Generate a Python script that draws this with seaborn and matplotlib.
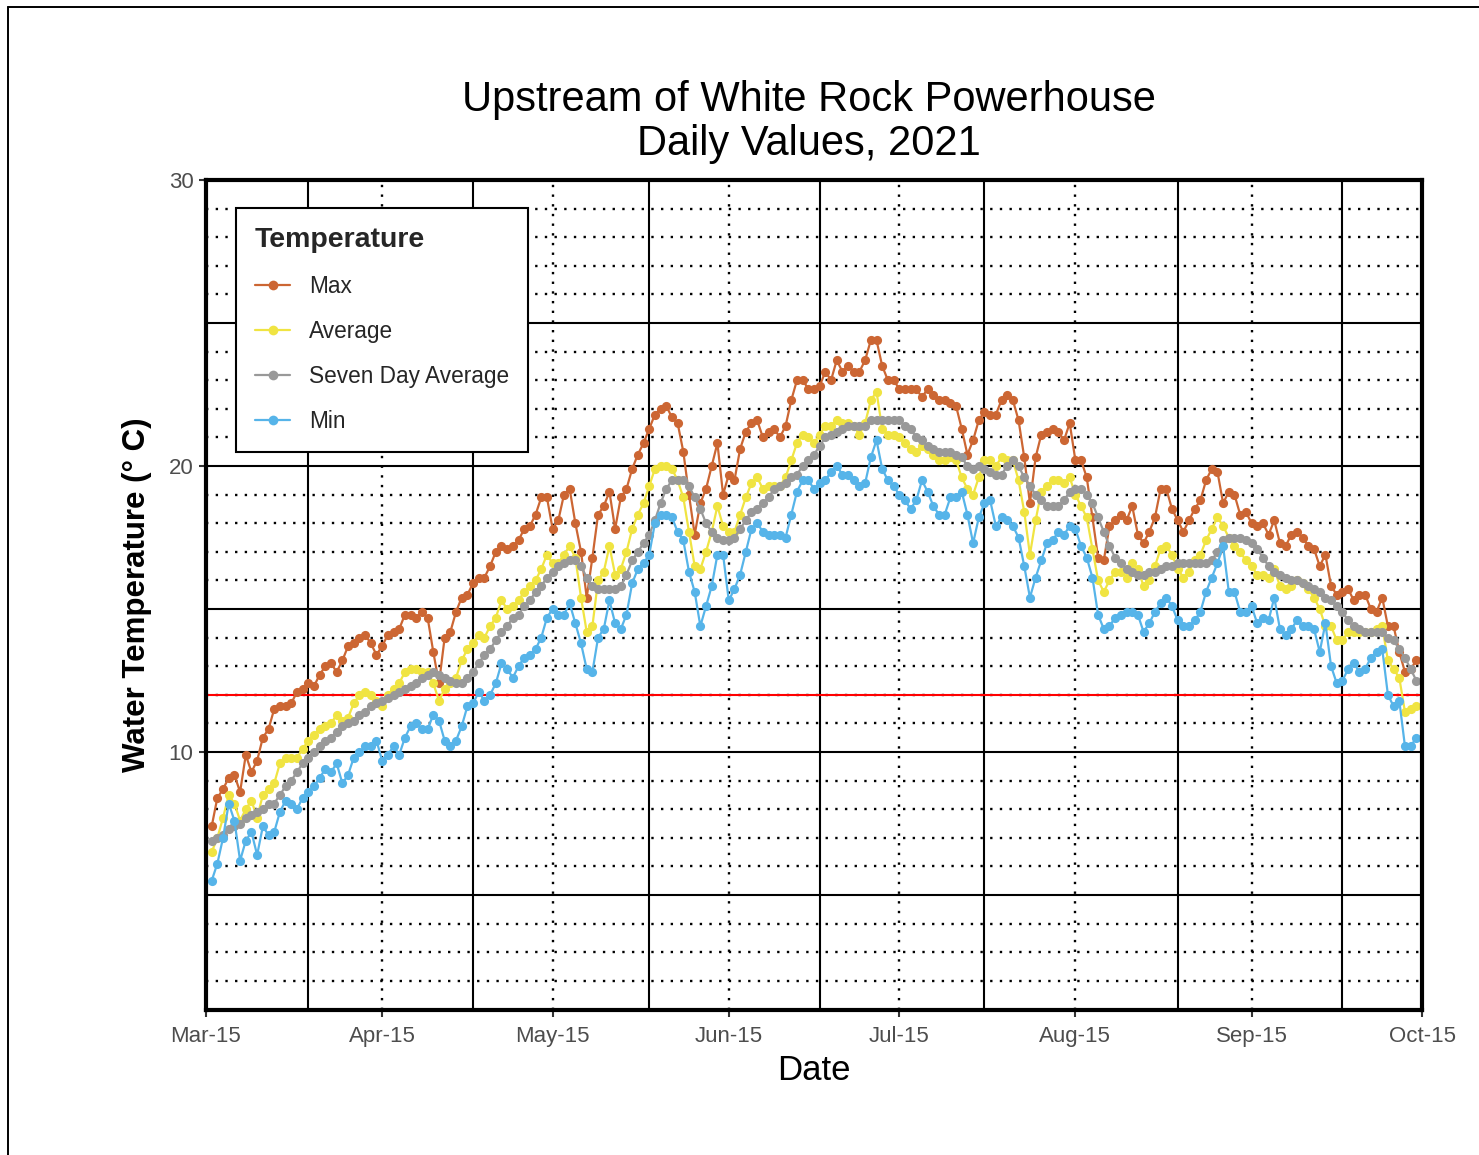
import numpy as np
import pandas as pd
import matplotlib
matplotlib.use("Agg")
import matplotlib.pyplot as plt
from matplotlib.lines import Line2D
import seaborn as sns

# ---------------- data ----------------
start_date = "2021-03-16"

max_temp = [
    7.4, 8.4, 8.7, 9.1, 9.2, 8.6, 9.9, 9.3, 9.7, 10.5,
    10.8, 11.5, 11.6, 11.6, 11.7, 12.1, 12.2, 12.4, 12.3, 12.7,
    13.0, 13.1, 12.8, 13.2, 13.7, 13.8, 14.0, 14.1, 13.8, 13.4,
    13.7, 14.1, 14.2, 14.3, 14.8, 14.8, 14.7, 14.9, 14.7, 13.5,
    12.4, 14.0, 14.2, 14.9, 15.4, 15.5, 15.9, 16.1, 16.1, 16.5,
    17.0, 17.2, 17.1, 17.2, 17.4, 17.8, 17.9, 18.3, 18.9, 18.9,
    17.8, 18.1, 19.0, 19.2, 18.0, 17.0, 15.4, 16.8, 18.3, 18.6,
    19.1, 17.8, 18.9, 19.2, 19.9, 20.4, 20.8, 21.3, 21.8, 22.0,
    22.1, 21.7, 21.5, 20.5, 19.0, 17.6, 18.7, 19.2, 20.0, 20.8,
    19.0, 19.7, 19.5, 20.6, 21.2, 21.5, 21.6, 21.0, 21.2, 21.3,
    21.0, 21.4, 22.3, 23.0, 23.0, 22.7, 22.7, 22.8, 23.3, 23.0,
    23.7, 23.3, 23.5, 23.3, 23.3, 23.7, 24.4, 24.4, 23.5, 23.0,
    23.0, 22.7, 22.7, 22.7, 22.7, 22.4, 22.7, 22.5, 22.3, 22.3,
    22.2, 22.1, 21.3, 20.4, 20.9, 21.6, 21.9, 21.8, 21.8, 22.3,
    22.5, 22.3, 21.6, 20.3, 18.7, 20.3, 21.1, 21.2, 21.3, 21.2,
    20.9, 21.5, 20.2, 20.2, 19.6, 18.2, 16.8, 16.7, 17.9, 18.1,
    18.3, 18.1, 18.6, 17.6, 17.3, 17.7, 18.2, 19.2, 19.2, 18.5,
    18.1, 17.7, 18.1, 18.5, 18.8, 19.5, 19.9, 19.8, 18.7, 19.1,
    19.0, 18.3, 18.4, 18.0, 17.9, 18.0, 17.6, 18.1, 17.3, 17.2,
    17.6, 17.7, 17.5, 17.2, 17.1, 16.5, 16.9, 15.8, 15.5, 15.6,
    15.7, 15.3, 15.5, 15.5, 15.0, 14.9, 15.4, 14.4, 14.4, 13.5,
    12.8, 12.9, 13.2,
]

avg_temp = [
    6.5, 7.0, 7.7, 8.5, 8.2, 7.6, 8.0, 8.3, 7.7, 8.5,
    8.7, 8.9, 9.6, 9.8, 9.8, 9.8, 10.1, 10.4, 10.6, 10.8,
    10.9, 11.0, 11.3, 11.1, 11.2, 11.7, 12.0, 12.1, 12.0, 11.8,
    11.6, 12.0, 12.2, 12.4, 12.8, 12.9, 12.9, 12.8, 12.8, 12.4,
    11.8, 12.2, 12.4, 12.6, 13.2, 13.6, 13.8, 14.1, 14.0, 14.4,
    14.7, 15.3, 15.0, 15.1, 15.3, 15.6, 15.8, 16.0, 16.4, 16.9,
    16.6, 16.6, 16.9, 17.2, 16.8, 15.4, 14.2, 14.4, 16.0, 16.3,
    17.2, 16.2, 16.4, 17.0, 17.8, 18.3, 18.7, 19.3, 19.9, 20.0,
    20.0, 19.9, 19.5, 18.9, 17.7, 16.5, 16.4, 17.0, 17.7, 18.6,
    17.9, 17.7, 17.7, 18.3, 18.9, 19.4, 19.6, 19.2, 19.3, 19.3,
    19.3, 19.6, 20.2, 20.8, 21.1, 21.0, 20.8, 21.1, 21.4, 21.4,
    21.6, 21.5, 21.5, 21.4, 21.1, 21.5, 22.3, 22.6, 21.3, 21.1,
    21.1, 21.0, 20.8, 20.6, 20.5, 20.7, 20.6, 20.4, 20.2, 20.2,
    20.3, 20.2, 19.6, 19.2, 19.0, 19.6, 20.2, 20.2, 20.0, 20.3,
    20.2, 20.2, 19.5, 18.4, 16.9, 18.1, 19.1, 19.3, 19.5, 19.5,
    19.4, 19.6, 19.0, 18.6, 18.2, 17.1, 16.0, 15.6, 16.0, 16.3,
    16.3, 16.1, 16.6, 16.4, 15.8, 16.0, 16.5, 17.1, 17.2, 16.9,
    16.4, 16.1, 16.3, 16.7, 16.9, 17.4, 17.8, 18.2, 17.9, 17.5,
    17.2, 17.0, 16.7, 16.5, 16.2, 16.2, 16.1, 16.4, 15.8, 15.7,
    15.8, 16.0, 15.9, 15.7, 15.4, 15.0, 14.4, 14.4, 13.9, 13.9,
    14.2, 14.2, 14.2, 14.2, 14.2, 14.3, 14.4, 13.2, 12.9, 12.6,
    11.4, 11.5, 11.6,
]

seven_day_avg = [
    6.9, 7.0, 7.1, 7.3, 7.4, 7.5, 7.7, 7.8, 7.9, 8.0,
    8.2, 8.2, 8.5, 8.8, 9.0, 9.3, 9.6, 9.8, 10.0, 10.2,
    10.4, 10.5, 10.7, 10.9, 11.0, 11.1, 11.3, 11.4, 11.6, 11.7,
    11.8, 11.9, 12.0, 12.1, 12.2, 12.3, 12.4, 12.6, 12.7, 12.8,
    12.7, 12.6, 12.5, 12.4, 12.4, 12.6, 12.8, 13.1, 13.4, 13.6,
    13.9, 14.2, 14.4, 14.7, 14.8, 15.1, 15.3, 15.6, 15.8, 16.1,
    16.3, 16.5, 16.6, 16.7, 16.7, 16.5, 16.1, 15.8, 15.7, 15.7,
    15.7, 15.7, 15.8, 16.2, 16.7, 17.0, 17.3, 17.6, 18.1, 18.7,
    19.2, 19.5, 19.5, 19.5, 19.3, 18.9, 18.5, 18.0, 17.7, 17.5,
    17.4, 17.4, 17.5, 17.8, 18.1, 18.4, 18.5, 18.7, 18.9, 19.2,
    19.3, 19.4, 19.6, 19.7, 20.0, 20.2, 20.4, 20.7, 21.0, 21.1,
    21.2, 21.3, 21.4, 21.4, 21.4, 21.4, 21.6, 21.6, 21.6, 21.6,
    21.6, 21.6, 21.4, 21.3, 21.0, 20.9, 20.7, 20.6, 20.5, 20.5,
    20.5, 20.4, 20.3, 20.0, 19.9, 20.0, 19.9, 19.8, 19.7, 19.7,
    20.0, 20.2, 20.0, 19.6, 19.3, 19.0, 18.8, 18.6, 18.6, 18.6,
    18.8, 19.1, 19.2, 19.2, 19.0, 18.7, 18.2, 17.7, 17.2, 16.8,
    16.6, 16.4, 16.3, 16.2, 16.2, 16.3, 16.3, 16.4, 16.5, 16.5,
    16.6, 16.6, 16.6, 16.6, 16.6, 16.6, 16.7, 17.0, 17.4, 17.5,
    17.5, 17.5, 17.4, 17.3, 17.1, 16.8, 16.5, 16.3, 16.2, 16.1,
    16.0, 16.0, 15.9, 15.8, 15.7, 15.6, 15.4, 15.3, 15.1, 14.9,
    14.6, 14.4, 14.3, 14.2, 14.2, 14.2, 14.2, 14.0, 13.9, 13.6,
    13.3, 12.9, 12.5,
]

min_temp = [
    5.5, 6.1, 7.0, 8.2, 7.6, 6.2, 6.9, 7.2, 6.4, 7.4,
    7.1, 7.2, 7.9, 8.3, 8.2, 8.0, 8.4, 8.6, 8.8, 9.1,
    9.4, 9.3, 9.6, 8.9, 9.2, 9.8, 10.0, 10.2, 10.2, 10.4,
    9.7, 9.9, 10.2, 9.9, 10.5, 10.9, 11.0, 10.8, 10.8, 11.3,
    11.1, 10.4, 10.2, 10.4, 10.9, 11.6, 11.7, 12.1, 11.8, 12.0,
    12.4, 13.1, 12.9, 12.6, 13.0, 13.3, 13.4, 13.6, 14.0, 14.7,
    15.0, 14.8, 14.8, 15.2, 14.5, 13.8, 12.9, 12.8, 14.0, 14.3,
    15.3, 14.5, 14.3, 14.8, 15.9, 16.4, 16.6, 16.9, 18.0, 18.3,
    18.3, 18.2, 17.7, 17.4, 16.3, 15.6, 14.4, 15.1, 15.8, 16.9,
    16.9, 15.3, 15.7, 16.2, 17.0, 17.8, 18.0, 17.7, 17.6, 17.6,
    17.6, 17.5, 18.3, 19.1, 19.5, 19.5, 19.2, 19.4, 19.5, 19.8,
    20.0, 19.7, 19.7, 19.5, 19.3, 19.4, 20.3, 20.9, 19.9, 19.5,
    19.3, 19.0, 18.8, 18.5, 18.8, 19.5, 19.1, 18.6, 18.3, 18.3,
    18.9, 18.9, 19.1, 18.3, 17.3, 18.2, 18.7, 18.8, 17.9, 18.2,
    18.1, 17.9, 17.5, 16.5, 15.4, 16.1, 16.7, 17.3, 17.4, 17.7,
    17.6, 17.9, 17.8, 17.2, 16.8, 16.1, 14.8, 14.3, 14.4, 14.7,
    14.8, 14.9, 14.9, 14.8, 14.2, 14.5, 14.9, 15.2, 15.4, 15.1,
    14.6, 14.4, 14.4, 14.6, 14.9, 15.6, 16.1, 16.6, 17.2, 15.6,
    15.6, 14.9, 14.9, 15.1, 14.5, 14.7, 14.6, 15.4, 14.3, 14.1,
    14.3, 14.6, 14.4, 14.4, 14.3, 13.5, 14.5, 13.0, 12.4, 12.5,
    12.9, 13.1, 12.8, 12.9, 13.3, 13.5, 13.6, 12.0, 11.6, 11.8,
    10.2, 10.2, 10.5,
]

series_names = ["Max", "Average", "Seven Day Average", "Min"]
series_colors = ["#CC6633", "#F0E442", "#999999", "#56B4E9"]

x_tick_dates = ["2021-03-15", "2021-04-15", "2021-05-15", "2021-06-15",
                "2021-07-15", "2021-08-15", "2021-09-15", "2021-10-15"]
x_tick_labels = ["Mar-15", "Apr-15", "May-15", "Jun-15",
                 "Jul-15", "Aug-15", "Sep-15", "Oct-15"]
x_solid_dates = ["2021-04-02", "2021-05-01", "2021-06-01", "2021-07-01",
                 "2021-07-30", "2021-09-02", "2021-10-01"]
y_ticks = [10, 20, 30]
y_solid = [5, 10, 15, 20, 25]
threshold = 12

title_text = "Upstream of White Rock Powerhouse\nDaily Values, 2021"

# ---------------- build frame ----------------
dates = pd.date_range(start_date, periods=len(max_temp), freq="D")
df = pd.DataFrame({"Date": dates,
                   "Max": max_temp,
                   "Average": avg_temp,
                   "Seven Day Average": seven_day_avg,
                   "Min": min_temp})
long_df = df.melt(id_vars="Date", var_name="Series", value_name="Temp")

# ---------------- style ----------------
sns.set_theme(style="white")
plt.rcParams["font.family"] = ["Liberation Sans", "DejaVu Sans"]

W, H = 1479, 1155
fig = plt.figure(figsize=(W / 100, H / 100), dpi=100)
ax = fig.add_axes([206 / W, 1 - 1010 / H, 1216 / W, 830 / H])

xmin = pd.Timestamp("2021-03-15")
xmax = pd.Timestamp("2021-10-15")
ax.set_xlim(xmin, xmax)
ax.set_ylim(0.98, 30)

dot_style = (0, (1, 3.1))
# dotted minor horizontal lines
for yv in range(2, 30):
    if yv % 5 != 0:
        ax.axhline(yv, color="black", lw=1.7, ls=dot_style, zorder=1)
# dotted vertical lines at labelled ticks
for d in x_tick_dates[1:-1]:
    ax.axvline(pd.Timestamp(d), color="black", lw=1.7, ls=dot_style, zorder=1)
# solid lines
for yv in y_solid:
    ax.axhline(yv, color="black", lw=1.5, zorder=1.5)
for d in x_solid_dates:
    ax.axvline(pd.Timestamp(d), color="black", lw=1.5, zorder=1.5)
# threshold
ax.axhline(threshold, color="#FF0000", lw=1.5, zorder=1.8)

sns.lineplot(data=long_df, x="Date", y="Temp", hue="Series",
             hue_order=series_names, palette=series_colors,
             marker="o", markersize=6.6, markeredgewidth=0,
             linewidth=1.6, errorbar=None, legend=False, ax=ax, zorder=3)

# ticks
ax.set_xticks(pd.to_datetime(x_tick_dates))
ax.set_xticklabels(x_tick_labels)
ax.set_yticks(y_ticks)
ax.set_yticklabels([str(t) for t in y_ticks])
ax.tick_params(axis="both", which="major", length=5, width=1.5,
               color="#333333", labelsize=16, labelcolor="#4D4D4D",
               bottom=True, left=True)
ax.tick_params(axis="x", pad=6.5)
ax.tick_params(axis="y", pad=4)

for sp in ax.spines.values():
    sp.set_visible(True)
    sp.set_color("black")
    sp.set_linewidth(3)
    sp.set_zorder(5)

ax.set_xlabel("Date", fontsize=25, labelpad=5, color="black")
ax.set_ylabel("Water Temperature (° C)", fontsize=22.5, fontweight="bold",
              labelpad=12, color="black")

fig.text(808.5 / W, 1 - 122 / H, title_text, ha="center", va="center",
         fontsize=30, linespacing=1.1, color="black")

# legend
handles = [Line2D([0], [0], color=c, lw=1.6, marker="o", markersize=7,
                  markeredgewidth=0) for c in series_colors]
leg = ax.legend(handles, series_names, title="Temperature",
                loc="upper left", bbox_to_anchor=(30 / 1216, (1010 - 208) / 830),
                borderaxespad=0, frameon=True, fancybox=False,
                edgecolor="black", framealpha=1, fontsize=16.3,
                title_fontproperties={"weight": "bold", "size": 20.5},
                alignment="left", handlelength=1.55, handletextpad=0.84,
                labelspacing=0.97, borderpad=0.84)
leg.get_frame().set_linewidth(1.5)
leg.set_zorder(6)

# outer frame lines of the image
fig.add_artist(Line2D([8 / W, 1], [1 - 7 / H, 1 - 7 / H],
                      transform=fig.transFigure, color="black", lw=1.4))
fig.add_artist(Line2D([8 / W, 8 / W], [0, 1 - 7 / H],
                      transform=fig.transFigure, color="black", lw=1.4))

fig.savefig("out.png", dpi=100, facecolor="white")
